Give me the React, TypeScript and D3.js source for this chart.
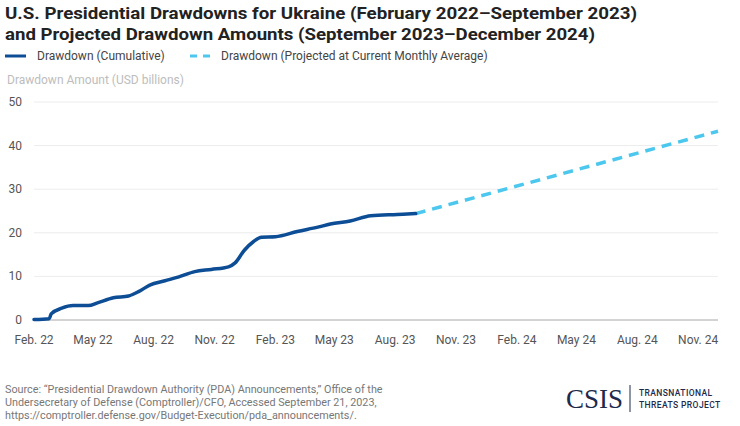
import React from 'react'
import * as d3 from 'd3'

// cumulative drawdowns (USD billions)
const actualDates = [
    '2022-02-01', '2022-02-24', '2022-02-27', '2022-03-15', '2022-04-01', '2022-04-24',
    '2022-05-09', '2022-06-01', '2022-06-24', '2022-07-09', '2022-07-26', '2022-08-18',
    '2022-09-08', '2022-10-02', '2022-10-27', '2022-11-22', '2022-12-02', '2022-12-16',
    '2022-12-30', '2023-01-11', '2023-02-01', '2023-03-06', '2023-04-06', '2023-04-25',
    '2023-05-25', '2023-06-25', '2023-08-04', '2023-09-01'
]
const actualValues = [
    0.1, 0.3, 1.4, 2.7, 3.3, 3.3,
    4.0, 5.1, 5.5, 6.5, 8.0, 9.0,
    9.9, 11.1, 11.6, 12.2, 13.1, 16.0,
    18.0, 19.0, 19.1, 20.3, 21.3, 22.0,
    22.7, 23.9, 24.2, 24.4
]

// projection at current monthly average
const projectedDates = ['2023-09-01', '2024-12-01']
const projectedValues = [24.4, 43.3]

const yTicks = [0, 10, 20, 30, 40, 50]
const xTickDates = [
    '2022-02-01', '2022-05-01', '2022-08-01', '2022-11-01',
    '2023-02-01', '2023-05-01', '2023-08-01', '2023-11-01',
    '2024-02-01', '2024-05-01', '2024-08-01', '2024-11-01'
]
const xTickLabels = [
    'Feb. 22', 'May 22', 'Aug. 22', 'Nov. 22',
    'Feb. 23', 'May 23', 'Aug. 23', 'Nov. 23',
    'Feb. 24', 'May 24', 'Aug. 24', 'Nov. 24'
]

const titleLines = [
    'U.S. Presidential Drawdowns for Ukraine (February 2022\u2013September 2023)',
    'and Projected Drawdown Amounts (September 2023\u2013December 2024)'
]
const legendLabels = ['Drawdown (Cumulative)', 'Drawdown (Projected at Current Monthly Average)']
const sourceLines = [
    'Source: \u201cPresidential Drawdown Authority (PDA) Announcements,\u201d Office of the',
    'Undersecretary of Defense (Comptroller)/CFO, Accessed September 21, 2023,',
    'https://comptroller.defense.gov/Budget-Execution/pda_announcements/.'
]

const W = 740
const H = 426
const darkBlue = '#0c4d95'
const lightBlue = '#4cc7ee'
const font = 'Roboto, "Noto Sans", sans-serif'

const parse = d3.timeParse('%Y-%m-%d')

const App = () => {
    const x = d3.scaleTime()
        .domain([parse('2022-02-01') as Date, parse('2024-12-01') as Date])
        .range([34, 718])
    const y = d3.scaleLinear()
        .domain([0, 50])
        .range([320, 102])

    const actual = actualDates.map((d, i) => ({ date: parse(d) as Date, value: actualValues[i] }))
    const projected = projectedDates.map((d, i) => ({ date: parse(d) as Date, value: projectedValues[i] }))

    const line = d3.line<{ date: Date, value: number }>()
        .x(d => x(d.date))
        .y(d => y(d.value))
        .curve(d3.curveMonotoneX)

    const [x0, x1] = x.range()

    return (
        <svg width={W} height={H} style={{ display: 'block', position: 'absolute', left: 0, top: 0, background: '#fff' }}>
            {/* title */}
            {titleLines.map((t, i) =>
                <text key={`title-${i}`} x={5} y={19 + i * 21} fontFamily={font} fontWeight={700}
                      fontSize={17} fill="#222" textLength={i === 0 ? 632 : 590} lengthAdjust="spacingAndGlyphs">{t}</text>
            )}

            {/* legend */}
            <line x1={5} x2={26} y1={56} y2={56} stroke={darkBlue} strokeWidth={3} />
            <text x={37} y={60} fontFamily={font} fontSize={12} fill="#444">{legendLabels[0]}</text>
            <line x1={190} x2={212} y1={56} y2={56} stroke={lightBlue} strokeWidth={3} strokeDasharray="7 6" />
            <text x={221} y={60} fontFamily={font} fontSize={12} fill="#444">{legendLabels[1]}</text>

            <text x={7} y={84} fontFamily={font} fontSize={12} fill="#bdbdbd">Drawdown Amount (USD billions)</text>

            {/* grid */}
            {yTicks.map(t =>
                <g key={`y-${t}`}>
                    <line x1={x0} x2={x1} y1={y(t)} y2={y(t)}
                          stroke={t === 0 ? '#a8a8a8' : '#ececec'} strokeWidth={1} />
                    <text x={22} y={y(t) + 4} textAnchor="end" fontFamily={font} fontSize={12} fill="#555">{t}</text>
                </g>
            )}

            {xTickDates.map((d, i) =>
                <text key={`x-${i}`} x={x(parse(d) as Date)} y={344} textAnchor="middle"
                      fontFamily={font} fontSize={12} fill="#555">{xTickLabels[i]}</text>
            )}

            {/* lines */}
            <path d={line(projected) as string} fill="none" stroke={lightBlue} strokeWidth={3.5} strokeDasharray="10 7" />
            <path d={line(actual) as string} fill="none" stroke={darkBlue} strokeWidth={3.5}
                  strokeLinecap="round" strokeLinejoin="round" />

            {/* source */}
            {sourceLines.map((t, i) =>
                <text key={`src-${i}`} x={5} y={393 + i * 13} fontFamily={font} fontSize={10.8} fill="#777">{t}</text>
            )}

            {/* logo */}
            <text x={566} y={408} fontFamily='"Liberation Serif", serif' fontSize={27} fill="#1d2a4c">CSIS</text>
            <line x1={630} x2={630} y1={385} y2={412} stroke="#1d2a4c" strokeWidth={1} />
            <text x={639} y={396} fontFamily={font} fontWeight={500} fontSize={8.5} letterSpacing={0.4} fill="#1d2a4c">TRANSNATIONAL</text>
            <text x={639} y={408} fontFamily={font} fontWeight={500} fontSize={8.5} letterSpacing={0.4} fill="#1d2a4c">THREATS PROJECT</text>
        </svg>
    )
}

export default App
